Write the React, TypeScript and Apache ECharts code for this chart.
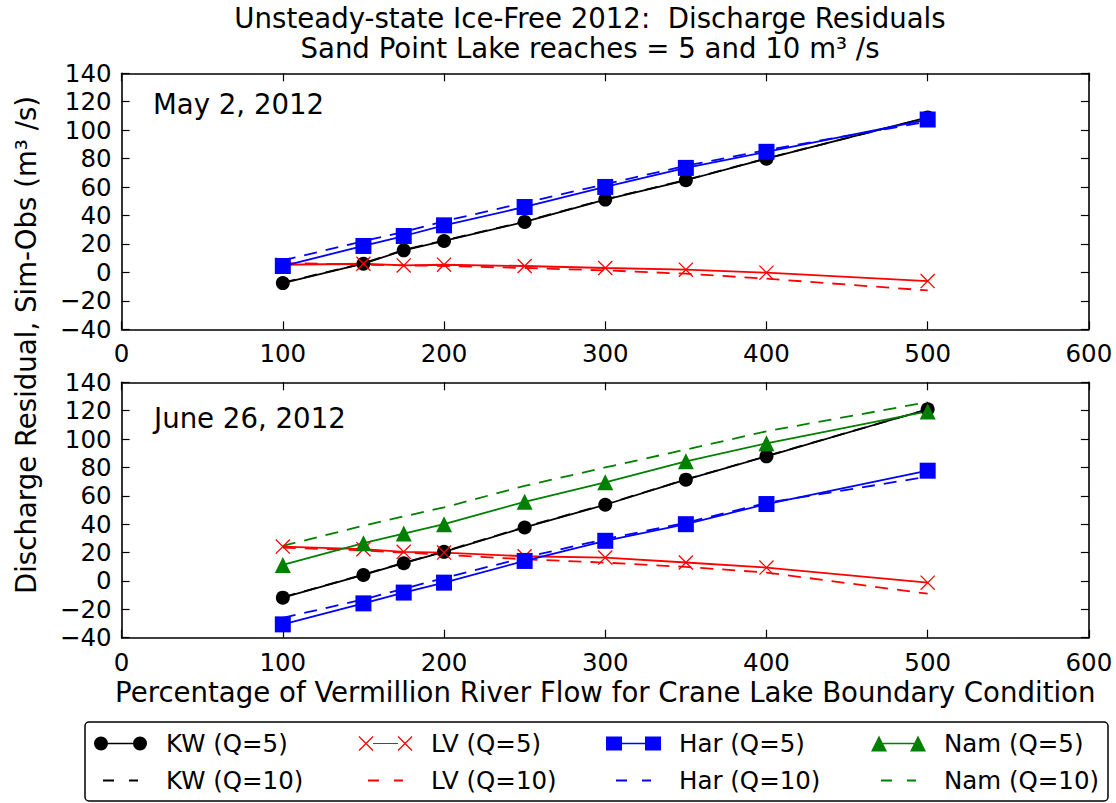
import React, { useEffect, useRef } from "react";
import * as echarts from "echarts";

// ---------- data ----------
const xValues = [100, 150, 175, 200, 250, 300, 350, 400, 500];

// Panel 1: May 2, 2012
const mayKW5 = [-7.5, 6.1, 15.5, 22.1, 35.5, 51.2, 64.8, 80, 109];
const mayKW10 = [-7.2, 6.4, 15.8, 22.4, 35.8, 51.4, 65, 80.2, 108.8];
const mayLV5 = [5.4, 6.1, 4.9, 5.4, 4.5, 3.1, 1.9, -0.2, -6.1];
const mayLV10 = [6.6, 5.4, 5.0, 4.5, 3.1, 1.4, -0.9, -4.4, -12.7];
const mayHar5 = [4.5, 18.6, 25.6, 33.1, 46, 60.1, 73.5, 84.8, 107.5];
const mayHar10 = [8.4, 22, 28.5, 36, 49, 62, 75, 86, 106];

// Panel 2: June 26, 2012
const junKW5 = [-11.8, 4.2, 12.5, 20.5, 37.7, 53.7, 71.4, 87.8, 121];
const junKW10 = [-11.5, 4.5, 12.8, 20.8, 38, 54, 71.5, 88, 121];
const junLV5 = [24.2, 22.4, 20.5, 20, 17.4, 16.5, 13, 9.4, -1.2];
const junLV10 = [23.5, 21.5, 20, 18.4, 15.3, 12.9, 9.9, 5.9, -9];
const junHar5 = [-30.6, -15.8, -8.2, -1.2, 14.1, 28.3, 40, 54.2, 77.7];
const junHar10 = [-26, -13, -5.5, 2, 16.5, 29.5, 41, 55, 73.5];
const junNam5 = [11.3, 26.6, 33.4, 40, 55.8, 69.5, 84.3, 97, 119.5];
const junNam10 = [24.7, 38.9, 45.5, 51.8, 67, 80, 92.6, 105.5, 126];

const seriesNames = [
  "KW (Q=5)", "KW (Q=10)", "LV (Q=5)", "LV (Q=10)",
  "Har (Q=5)", "Har (Q=10)", "Nam (Q=5)", "Nam (Q=10)",
];
const panelLabels = ["May 2, 2012", "June 26, 2012"];
const titleText =
  "Unsteady-state Ice-Free 2012:  Discharge Residuals\nSand Point Lake reaches = 5 and 10 m\u00b3 /s";
const xAxisTitle = "Percentage of Vermillion River Flow for Crane Lake Boundary Condition";
const yAxisTitle = "Discharge Residual, Sim-Obs (m\u00b3 /s)";

// ---------- styling ----------
const FONT = "DejaVu Sans";
const BLACK = "#000000";
const RED = "#ff0000";
const BLUE = "#0000ff";
const GREEN = "#008000";
const TICK_FS = 24.5;
const LARGE_FS = 27.6;

function xArms(cx: number, cy: number, h: number, t: number): string {
  const a = t / (2 * Math.SQRT2);
  const x1 = cx - h, y1 = cy - h, x2 = cx + h, y2 = cy + h;
  const d1 = `M${x1 + a},${y1 - a}L${x2 + a},${y2 - a}L${x2 - a},${y2 + a}L${x1 - a},${y1 + a}Z`;
  const x3 = cx - h, y3 = cy + h, x4 = cx + h, y4 = cy - h;
  const d2 = `M${x3 - a},${y3 - a}L${x4 - a},${y4 - a}L${x4 + a},${y4 + a}L${x3 + a},${y3 + a}Z`;
  return d1 + d2;
}
const X_SYMBOL = "path://" + xArms(7, 7, 7, 1.25);

const ANCH = "M0,0L0.01,0L0,0.01Z M55,16L55,15.99L54.99,16Z";
const ICON_CIRCLE =
  "path://" + ANCH +
  " M1,8A7,7 0 1,1 15,8A7,7 0 1,1 1,8Z M40,8A7,7 0 1,1 54,8A7,7 0 1,1 40,8Z M15,7.2L40,7.2L40,8.8L15,8.8Z";
const ICON_SQUARE =
  "path://" + ANCH +
  " M0,1L16,1L16,15L0,15Z M39,1L55,1L55,15L39,15Z M16,7.2L39,7.2L39,8.8L16,8.8Z";
const ICON_TRI =
  "path://" + ANCH +
  " M8,0L16,16L0,16Z M47,0L55,16L39,16Z M12,7.3L43,7.3L43,8.8L12,8.8Z";
const ICON_X =
  "path://" + ANCH + " " + xArms(8, 8, 7, 1.2) + xArms(47, 8, 7, 1.2) +
  " M15,7.4L40,7.4L40,8.6L15,8.6Z";
const ICON_DASH =
  "path://" + ANCH + " M10,7L21,7L21,9L10,9Z M36,7L45,7L45,9L36,9Z";

const colors = [BLACK, BLACK, RED, RED, BLUE, BLUE, GREEN, GREEN];
const icons = [ICON_CIRCLE, ICON_DASH, ICON_X, ICON_DASH, ICON_SQUARE, ICON_DASH, ICON_TRI, ICON_DASH];

const GRID_LEFT = 121.6;
const GRID_WIDTH = 967.3;
const gridTops = [73.3, 382.3];
const gridHeights = [256, 255.4];

function makeSeries(name: string, values: number[], panel: number, idx: number) {
  const solid = idx % 2 === 0;
  const kind = Math.floor(idx / 2);
  const symbol = solid ? ["circle", X_SYMBOL, "rect", "triangle"][kind] : "none";
  const symbolSize = [14, 15, 16, 16][kind];
  return {
    type: "line",
    name,
    xAxisIndex: panel * 2,
    yAxisIndex: panel * 2,
    data: xValues.map((x, j) => [x, values[j]]),
    symbol,
    symbolSize,
    showSymbol: solid,
    lineStyle: { color: colors[idx], width: 1.8, type: solid ? "solid" : [13, 9] },
    itemStyle: { color: colors[idx], borderWidth: 0 },
    emphasis: { disabled: true },
    silent: true,
    z: 2,
  };
}

function axisCommon() {
  return {
    type: "value",
    axisLine: { show: true, onZero: false, lineStyle: { color: BLACK, width: 1.6 } },
    axisTick: { show: true, inside: true, length: 8, lineStyle: { color: BLACK, width: 1.2 } },
    splitLine: { show: false },
  };
}

export default function App() {
  const ref = useRef<HTMLDivElement>(null);

  useEffect(() => {
    if (!ref.current) return;
    const chart = echarts.init(ref.current, undefined, { renderer: "svg" });

    const xAxes: any[] = [];
    const yAxes: any[] = [];
    for (let p = 0; p < 2; p++) {
      xAxes.push({
        ...axisCommon(),
        gridIndex: p,
        position: "bottom",
        min: 0,
        max: 600,
        interval: 100,
        axisLabel: { show: true, fontSize: TICK_FS, fontFamily: FONT, color: BLACK, margin: 12 },
        ...(p === 1
          ? {
              name: xAxisTitle,
              nameLocation: "middle",
              nameGap: 41,
              nameTextStyle: { fontSize: LARGE_FS, fontFamily: FONT, color: BLACK, verticalAlign: "top" },
            }
          : {}),
      });
      xAxes.push({
        ...axisCommon(),
        gridIndex: p,
        position: "top",
        min: 0,
        max: 600,
        interval: 100,
        axisLabel: { show: false },
      });
      yAxes.push({
        ...axisCommon(),
        gridIndex: p,
        position: "left",
        min: -40,
        max: 140,
        interval: 20,
        axisLabel: {
          show: true,
          fontSize: TICK_FS,
          fontFamily: FONT,
          color: BLACK,
          margin: 10,
          showMinLabel: true,
          showMaxLabel: true,
          formatter: (v: number) => String(v).replace("-", "\u2212"),
        },
      });
      yAxes.push({
        ...axisCommon(),
        gridIndex: p,
        position: "right",
        min: -40,
        max: 140,
        interval: 20,
        axisLabel: { show: false },
      });
    }

    const mayData = [mayKW5, mayKW10, mayLV5, mayLV10, mayHar5, mayHar10];
    const junData = [junKW5, junKW10, junLV5, junLV10, junHar5, junHar10, junNam5, junNam10];
    const series: any[] = [];
    mayData.forEach((vals, i) => series.push(makeSeries(seriesNames[i], vals, 0, i)));
    junData.forEach((vals, i) => series.push(makeSeries(seriesNames[i], vals, 1, i)));

    const legendCols = [101, 366, 614, 879];
    const rowTops = [731, 768];
    const legends = seriesNames.map((name, i) => ({
      data: [{ name, icon: icons[i], itemStyle: { color: colors[i], borderWidth: 0 } }],
      left: legendCols[Math.floor(i / 2)] - 8,
      top: rowTops[i % 2],
      orient: "horizontal",
      padding: 0,
      itemWidth: 55,
      itemHeight: 16,
      itemGap: 0,
      selectedMode: false,
      textStyle: { fontSize: TICK_FS, fontFamily: FONT, color: BLACK, padding: [0, 0, 0, 13] },
    }));

    const option: any = {
      animation: false,
      backgroundColor: "#ffffff",
      title: {
        text: titleText,
        left: 590,
        top: 3,
        textAlign: "center",
        padding: 0,
        textStyle: { fontSize: LARGE_FS, fontWeight: "normal", fontFamily: FONT, color: BLACK, lineHeight: 30 },
      },
      grid: gridTops.map((t, i) => ({
        left: GRID_LEFT,
        top: t,
        width: GRID_WIDTH,
        height: gridHeights[i],
        containLabel: false,
      })),
      xAxis: xAxes,
      yAxis: yAxes,
      legend: legends,
      series,
      graphic: [
        {
          type: "text",
          x: 153,
          y: 104,
          style: { text: panelLabels[0], fontSize: LARGE_FS, fontFamily: FONT, fill: BLACK, align: "left", verticalAlign: "middle" },
        },
        {
          type: "text",
          x: 154,
          y: 418,
          style: { text: panelLabels[1], fontSize: LARGE_FS, fontFamily: FONT, fill: BLACK, align: "left", verticalAlign: "middle" },
        },
        {
          type: "text",
          x: 26,
          y: 345,
          rotation: Math.PI / 2,
          style: { text: yAxisTitle, fontSize: LARGE_FS, fontFamily: FONT, fill: BLACK, align: "center", verticalAlign: "middle" },
        },
        {
          type: "rect",
          shape: { x: 85, y: 722, width: 1023, height: 79, r: 4 },
          style: { fill: "none", stroke: BLACK, lineWidth: 1.5 },
          z: 0,
        },
      ],
    };

    chart.setOption(option);
    return () => chart.dispose();
  }, []);

  return (
    <div
      ref={ref}
      style={{ position: "absolute", left: 0, top: 0, width: 1116, height: 803, background: "#fff" }}
    />
  );
}
